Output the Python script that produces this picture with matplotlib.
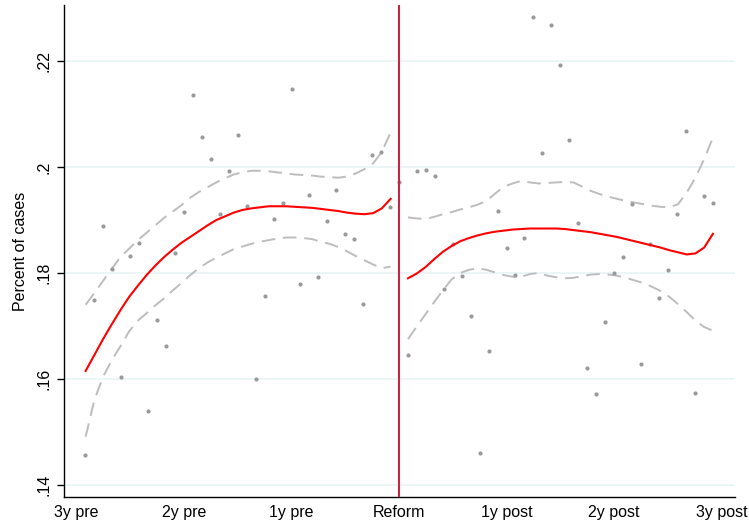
import matplotlib
matplotlib.use("Agg")
import matplotlib.pyplot as plt

# ---- data ----
months_pre = list(range(-35, 1))          # -35 .. 0 (0 = reform month)
share_pre = [0.1456, 0.1749, 0.1888, 0.1808, 0.1604, 0.1832, 0.1857, 0.1540, 0.1712,
             0.1662, 0.1838, 0.1916, 0.2136, 0.2056, 0.2015, 0.1911, 0.1992, 0.2060,
             0.1927, 0.1599, 0.1757, 0.1902, 0.1933, 0.2147, 0.1780, 0.1948, 0.1792,
             0.1899, 0.1957, 0.1873, 0.1864, 0.1742, 0.2022, 0.2028, 0.1925, 0.1971]
months_post = list(range(1, 36))          # 1 .. 35
share_post = [0.1645, 0.1993, 0.1995, 0.1984, 0.1770, 0.1855, 0.1795, 0.1719, 0.1460,
              0.1652, 0.1918, 0.1848, 0.1796, 0.1867, 0.2284, 0.2026, 0.2268, 0.2192,
              0.2052, 0.1894, 0.1621, 0.1571, 0.1708, 0.1800, 0.1830, 0.1930, 0.1628,
              0.1854, 0.1753, 0.1806, 0.1911, 0.2069, 0.1574, 0.1946, 0.1932]

# fitted curve (local polynomial) and 95% CI
fit_x_pre = [-34.98, -34.01, -33.04, -32.07, -31.09, -30.12, -29.15, -28.18, -27.20,
             -26.23, -25.26, -24.29, -23.31, -22.34, -21.37, -20.39, -19.42, -18.45,
             -17.48, -16.50, -15.53, -14.56, -13.59, -12.61, -11.64, -10.67, -9.70,
             -8.72, -7.75, -6.78, -5.81, -4.83, -3.86, -2.89, -1.92, -0.94]
fit_pre = [0.1615, 0.1645, 0.1675, 0.1703, 0.1730, 0.1755, 0.1776, 0.1796, 0.1814,
           0.1830, 0.1844, 0.1857, 0.1868, 0.1879, 0.1890, 0.1900, 0.1907, 0.1914,
           0.1919, 0.1922, 0.1924, 0.1926, 0.1926, 0.1926, 0.1925, 0.1924, 0.1923,
           0.1921, 0.1919, 0.1917, 0.1914, 0.1912, 0.1911, 0.1913, 0.1922, 0.1940]
hi_pre = [0.1740, 0.1762, 0.1785, 0.1808, 0.1830, 0.1846, 0.1862, 0.1876, 0.1890,
          0.1904, 0.1916, 0.1928, 0.1942, 0.1953, 0.1962, 0.1971, 0.1979, 0.1986,
          0.1990, 0.1993, 0.1993, 0.1992, 0.1990, 0.1988, 0.1986, 0.1985, 0.1984,
          0.1982, 0.1981, 0.1980, 0.1982, 0.1988, 0.1996, 0.2007, 0.2029, 0.2065]
lo_pre = [0.1491, 0.1560, 0.1604, 0.1635, 0.1662, 0.1690, 0.1710, 0.1724, 0.1739,
          0.1752, 0.1767, 0.1781, 0.1796, 0.1809, 0.1820, 0.1829, 0.1837, 0.1845,
          0.1850, 0.1855, 0.1859, 0.1862, 0.1865, 0.1867, 0.1867, 0.1866, 0.1864,
          0.1859, 0.1855, 0.1849, 0.1841, 0.1832, 0.1824, 0.1816, 0.1809, 0.1812]

fit_x_post = [1.00, 1.98, 2.95, 3.92, 4.89, 5.87, 6.84, 7.81, 8.78, 9.76, 10.73, 11.70,
              12.67, 13.65, 14.62, 15.59, 16.56, 17.53, 18.51, 19.48, 20.45, 21.42,
              22.40, 23.37, 24.34, 25.31, 26.29, 27.26, 28.23, 29.20, 30.17, 31.15,
              32.12, 33.09, 34.06, 35.04]
fit_post = [0.1790, 0.1799, 0.1811, 0.1826, 0.1840, 0.1851, 0.1860, 0.1866, 0.1871,
            0.1875, 0.1878, 0.1880, 0.1882, 0.1883, 0.1884, 0.1884, 0.1884, 0.1884,
            0.1883, 0.1881, 0.1879, 0.1877, 0.1874, 0.1871, 0.1868, 0.1864, 0.1860,
            0.1856, 0.1852, 0.1848, 0.1843, 0.1839, 0.1835, 0.1837, 0.1848, 0.1874]
hi_post = [0.1905, 0.1903, 0.1902, 0.1906, 0.1911, 0.1915, 0.1920, 0.1924, 0.1929,
           0.1936, 0.1950, 0.1963, 0.1969, 0.1974, 0.1971, 0.1969, 0.1970, 0.1971,
           0.1972, 0.1971, 0.1963, 0.1955, 0.1949, 0.1944, 0.1940, 0.1936, 0.1933,
           0.1930, 0.1927, 0.1925, 0.1924, 0.1930, 0.1952, 0.1980, 0.2015, 0.2056]
lo_post = [0.1675, 0.1699, 0.1722, 0.1745, 0.1767, 0.1788, 0.1800, 0.1806, 0.1809,
           0.1806, 0.1801, 0.1796, 0.1793, 0.1793, 0.1798, 0.1800, 0.1795, 0.1792,
           0.1790, 0.1791, 0.1794, 0.1797, 0.1798, 0.1797, 0.1795, 0.1791, 0.1786,
           0.1781, 0.1774, 0.1766, 0.1755, 0.1741, 0.1726, 0.1710, 0.1698, 0.1691]

xtick_pos = [-36, -24, -12, 0, 12, 24, 36]
xtick_labels = ["3y pre", "2y pre", "1y pre", "Reform", "1y post", "2y post", "3y post"]
ytick_pos = [0.14, 0.16, 0.18, 0.20, 0.22]
ytick_labels = [".14", ".16", ".18", ".2", ".22"]
ylabel = "Percent of cases"

# ---- drawing ----
plt.rcParams['font.family'] = ['Liberation Sans', 'DejaVu Sans']
fig = plt.figure(figsize=(7.49, 5.23), dpi=100)
ax = fig.add_axes([0.0854, 0.0497, 0.8959, 0.9407])

ax.set_xlim(-37.4, 37.5)
ax.set_ylim(0.1377, 0.2306)

for yv in ytick_pos:
    ax.axhline(yv, color="#eaf2f3", lw=1.2, zorder=0)

dot_kw = dict(s=9, color="#9a9a9a", linewidths=0, zorder=3)
ax.scatter(months_pre, share_pre, **dot_kw)
ax.scatter(months_post, share_post, **dot_kw)

dash_kw = dict(color="#bdbdbd", lw=1.4, dashes=(7, 4), zorder=2)
ax.plot(fit_x_pre, hi_pre, **dash_kw)
ax.plot(fit_x_pre, lo_pre, **dash_kw)
ax.plot(fit_x_post, hi_post, **dash_kw)
ax.plot(fit_x_post, lo_post, **dash_kw)

ax.plot(fit_x_pre, fit_pre, color="#ff0000", lw=1.5, zorder=4)
ax.plot(fit_x_post, fit_post, color="#ff0000", lw=1.5, zorder=4)

ax.axvline(0, color="#c4264a", lw=1.5, zorder=5)

ax.set_xticks(xtick_pos)
ax.set_xticklabels(xtick_labels, fontsize=11.5)
ax.set_yticks(ytick_pos)
ax.set_yticklabels(ytick_labels, fontsize=11.5, rotation=90, va="center")
ax.tick_params(axis="x", length=0, pad=6)
ax.tick_params(axis="y", length=5, width=1, pad=4)
ax.set_ylabel(ylabel, fontsize=11.5, labelpad=6)

for s in ["top", "right"]:
    ax.spines[s].set_visible(False)
for s in ["left", "bottom"]:
    ax.spines[s].set_linewidth(1.0)
    ax.spines[s].set_color("black")

fig.savefig("out.png", dpi=100)
